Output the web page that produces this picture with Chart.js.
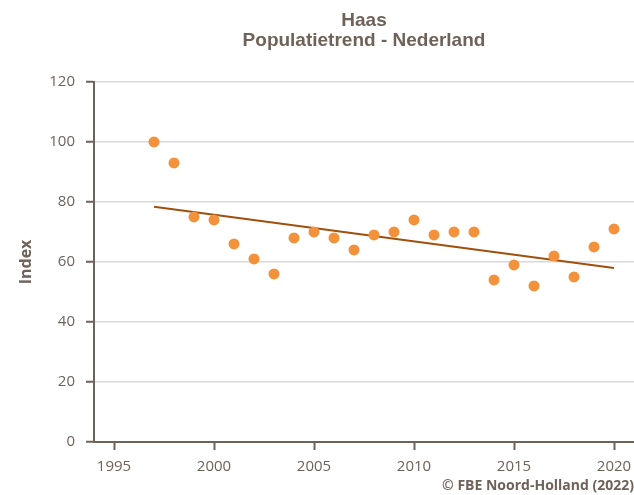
<!DOCTYPE html>
<html>
<head>
<meta charset="utf-8">
<script src="https://cdn.jsdelivr.net/npm/chart.js@4"></script>
<style>
    html, body { margin: 0; padding: 0; background: #ffffff; }
    #haasChart { display: block; }
</style>
</head>
<body>
<canvas id="haasChart" width="634" height="495"></canvas>
<script>
// Haas - populatietrend (index)
var jaren = [1997, 1998, 1999, 2000, 2001, 2002, 2003, 2004, 2005, 2006, 2007, 2008,
    2009, 2010, 2011, 2012, 2013, 2014, 2015, 2016, 2017, 2018, 2019, 2020];
var indexWaarden = [100, 93, 75, 74, 66, 61, 56, 68, 70, 68, 64, 69,
    70, 74, 69, 70, 70, 54, 59, 52, 62, 55, 65, 71];

var trendJaren = [1997, 2020];
var trendWaarden = [78.4, 58.0];

var titelRegels = ["Haas", "Populatietrend - Nederland"];
var bronTekst = "\u00A9 FBE Noord-Holland (2022)";

var tekstKleur = '#6e6259';
var asKleur = '#6e6259';

var puntData = jaren.map(function (j, i) { return { x: j, y: indexWaarden[i] }; });
var trendData = trendJaren.map(function (j, i) { return { x: j, y: trendWaarden[i] }; });

var ctx = document.getElementById('haasChart').getContext('2d');
var chart = new Chart(ctx, {
    type: 'scatter',
    data: {
        datasets: [{
            label: "Index",
            data: puntData,
            backgroundColor: '#f4913b',
            borderWidth: 0,
            pointRadius: 5.5,
            pointHoverRadius: 5.5,
            order: 1
        }, {
            type: 'line',
            label: "Trend",
            data: trendData,
            borderColor: '#a0500c',
            borderWidth: 2,
            pointRadius: 0,
            fill: false,
            order: 2
        }]
    },
    options: {
        responsive: false,
        animation: false,
        layout: { autoPadding: false, padding: { left: 0, right: 0, top: 0, bottom: 0 } },
        plugins: {
            legend: { display: false },
            tooltip: { enabled: false },
            title: {
                display: true,
                text: titelRegels,
                fullSize: false,
                color: tekstKleur,
                font: { family: "'Liberation Sans', Arial, sans-serif", size: 19, weight: 'bold', lineHeight: 1.05 },
                padding: { top: 11, bottom: 31 }
            },
            subtitle: {
                display: true,
                text: bronTekst,
                position: 'bottom',
                align: 'end',
                color: tekstKleur,
                font: { family: "'Open Sans', sans-serif", size: 14, weight: 'bold', lineHeight: 1.2 },
                padding: { top: 2.6, bottom: 0.6 }
            }
        },
        scales: {
            x: {
                type: 'linear',
                min: 1994,
                max: 2021,
                afterFit: function (scale) {
                    scale.height = 33;
                    scale.paddingLeft = 0;
                    scale.paddingRight = 0;
                },
                border: { display: true, color: asKleur, width: 2 },
                grid: {
                    drawOnChartArea: false,
                    drawTicks: true,
                    tickLength: 8,
                    tickColor: asKleur,
                    tickWidth: 2
                },
                ticks: {
                    stepSize: 5,
                    includeBounds: false,
                    padding: 8,
                    color: tekstKleur,
                    font: { family: "'Open Sans', sans-serif", size: 15 },
                    callback: function (v) { return String(v); }
                }
            },
            y: {
                min: 0,
                max: 120,
                afterFit: function (scale) { scale.width = 94; },
                border: { display: true, color: asKleur, width: 2 },
                grid: {
                    color: '#d9d9d9',
                    lineWidth: 1.5,
                    tickLength: 8,
                    tickColor: asKleur,
                    tickWidth: 2
                },
                ticks: {
                    stepSize: 20,
                    padding: 11,
                    color: tekstKleur,
                    font: { family: "'Open Sans', sans-serif", size: 15 }
                },
                title: {
                    display: true,
                    text: "Index",
                    color: tekstKleur,
                    font: { family: "'Open Sans', sans-serif", size: 16, weight: 'bold' },
                    padding: { top: 17, bottom: 0 }
                }
            }
        }
    }
});
</script>
</body>
</html>
